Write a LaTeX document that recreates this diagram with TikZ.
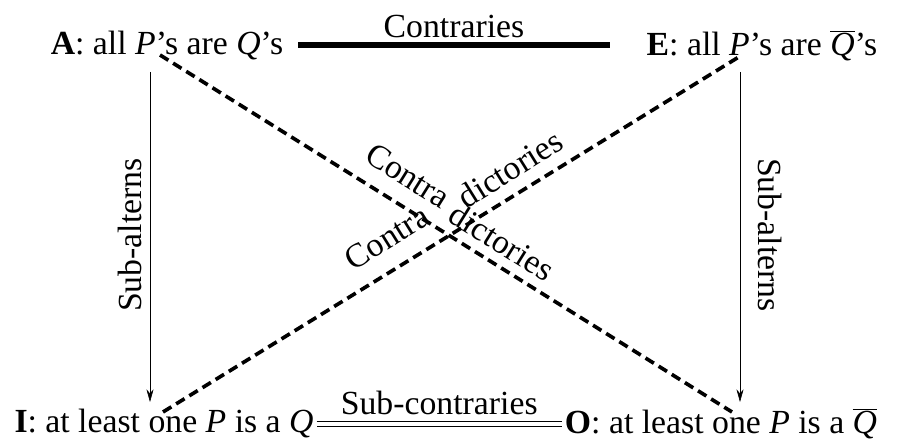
\documentclass[tikz,border=0pt]{standalone}
\usepackage{fontspec}
\setmainfont{Liberation Serif}
\usetikzlibrary{arrows.meta}
\tikzset{
  prop/.style={font=\fontsize{24}{28}\selectfont, inner sep=2pt},
  lbl/.style={font=\fontsize{24}{28}\selectfont, inner sep=0pt},
  contra/.style={dashed, line width=2.6pt, dash pattern=on 7pt off 4pt},
  subalt/.style={-{Stealth[length=9pt,width=5pt]}, thin},
}
\begin{document}
\begin{tikzpicture}[x=0.025cm,y=-0.025cm]
 \useasboundingbox (0,0) rectangle (908,446);
 % the four corners
 \node[prop] (a) at (167,46) {\textbf{A}: all \textit{P}'s are \textit{Q}'s};
 \node[prop] (e) at (762,46) {\textbf{E}: all \textit{P}'s are $\overline{\mbox{\textit{Q}}}$'s};
 \node[prop] (i) at (164,424) {\textbf{I}: at least one \textit{P} is a \textit{Q}};
 \node[prop] (o) at (721,424) {\textbf{O}: at least one \textit{P} is a $\overline{\mbox{\textit{Q}}}$};
 % end points of the lines
 \coordinate (a1) at (160,55);
 \coordinate (o1) at (732,412);
 \coordinate (e1) at (742,55);
 \coordinate (i1) at (163,412);
 \coordinate (al) at (150,72);
 \coordinate (il) at (150,402);
 \coordinate (er) at (740,72);
 \coordinate (or) at (740,402);
 \coordinate (ct1) at (298,45);
 \coordinate (ct2) at (610,45);
 % contraries and sub-contraries
 \draw[line width=4.5pt] (ct1) -- node[lbl, above=3pt] {Contraries} (ct2);
 \draw[double, double distance=3pt, thin] (i.east) -- node[lbl, above=6pt] {Sub-contraries} (o.west);
 % sub-alterns
 \draw[subalt] (al) -- (il);
 \draw[subalt] (er) -- (or);
 \node[lbl, rotate=90] (sl) at (130,235) {Sub-alterns};
 \node[lbl, rotate=-90] (sr) at (770,235) {Sub-alterns};
 % contradictories
 \draw[contra] (a1) -- (o1);
 \draw[contra] (i1) -- (e1);
 \node[lbl, rotate=-32] (c1) at (408,176) {Contra};
 \node[lbl, rotate=32] (d1) at (510,169) {dictories};
 \node[lbl, rotate=32] (c2) at (387,238) {Contra};
 \node[lbl, rotate=-32] (d2) at (502,242) {dictories};
\end{tikzpicture}
\end{document}
